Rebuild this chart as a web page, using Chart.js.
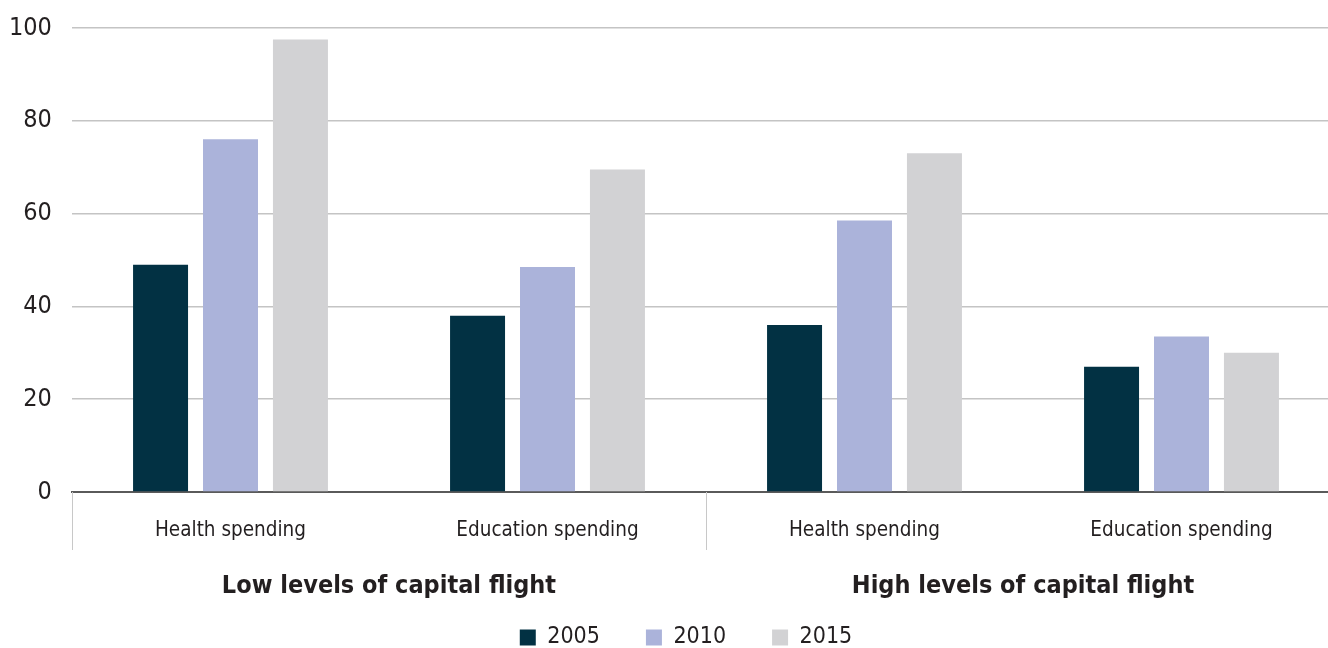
<!DOCTYPE html>
<html>
<head>
<meta charset="utf-8">
<script src="https://cdn.jsdelivr.net/npm/chart.js@4.4.1/dist/chart.umd.min.js"></script>
<style>
  html, body { margin: 0; padding: 0; background: #fff; overflow: hidden; }
  #wrap { width: 1340px; height: 648px; }
</style>
</head>
<body>
<div id="wrap"><canvas id="chart"></canvas></div>
<script>
const CATEGORIES = ['Health spending', 'Education spending', 'Health spending', 'Education spending'];
const GROUPS = ['Low levels of capital flight', 'High levels of capital flight'];
const YEARS = ['2005', '2010', '2015'];
const V2005 = [49, 38, 36, 27];
const V2010 = [76, 48.5, 58.5, 33.5];
const V2015 = [97.5, 69.5, 73, 30];
const Y_MIN = 0, Y_MAX = 100, Y_STEP = 20;

const FONT = "'Liberation Sans Narrow', 'DejaVu Sans Condensed', 'Roboto', sans-serif";
const TEXT = '#231f20';

Chart.defaults.font.family = FONT;
Chart.defaults.color = TEXT;

// group labels + separators under the category axis
const groupAxis = {
  id: 'groupAxis',
  afterDraw(chart) {
    const { ctx, chartArea, scales: { x } } = chart;
    const per = CATEGORIES.length / GROUPS.length;
    const half = (x.getPixelForValue(1) - x.getPixelForValue(0)) / 2;
    ctx.save();
    ctx.strokeStyle = '#c8c8c8';
    ctx.lineWidth = 1;
    for (let g = 0; g <= GROUPS.length; g++) {
      const px = Math.round(x.getPixelForValue(g * per) - half) + 0.5;
      ctx.beginPath();
      ctx.moveTo(px, chartArea.bottom);
      ctx.lineTo(px, chartArea.bottom + 58);
      ctx.stroke();
    }
    ctx.fillStyle = TEXT;
    ctx.font = "bold 25px " + FONT;
    ctx.textAlign = 'center';
    ctx.textBaseline = 'middle';
    GROUPS.forEach((g, i) => {
      const mid = (x.getPixelForValue(i * per) + x.getPixelForValue(i * per + per - 1)) / 2;
      ctx.fillText(g, mid, 586);
    });
    ctx.restore();
  }
};

new Chart(document.getElementById('chart'), {
  type: 'bar',
  data: {
    labels: CATEGORIES,
    datasets: [
      { label: YEARS[0], data: V2005, backgroundColor: '#023143' },
      { label: YEARS[1], data: V2010, backgroundColor: '#abb3da' },
      { label: YEARS[2], data: V2015, backgroundColor: '#d2d2d4' },
    ]
  },
  options: {
    responsive: true, maintainAspectRatio: false, animation: false,
    categoryPercentage: 0.662, barPercentage: 0.786,
    layout: { padding: { top: 28, left: 32, right: 0, bottom: -11 } },
    plugins: {
      tooltip: { enabled: false },
      legend: {
        position: 'bottom',
        labels: { boxWidth: 16, boxHeight: 16, padding: 46, color: TEXT, font: { size: 23 } }
      }
    },
    scales: {
      x: {
        grid: { display: false, drawTicks: false },
        border: { display: true, color: '#5a5a5a', width: 2 },
        ticks: { padding: 26, color: TEXT, font: { size: 20.5 } },
        afterFit: s => { s.height = 88; }
      },
      y: {
        min: Y_MIN, max: Y_MAX,
        // mirrored + far-aligned so the labels can sit left of the axis box without clipping
        ticks: { stepSize: Y_STEP, mirror: true, crossAlign: 'far', padding: -63, color: TEXT, font: { size: 25 } },
        grid: { color: '#c4c4c4', lineWidth: 1.5, drawTicks: false },
        border: { display: false },
        afterFit: s => { s.width = 40; s.paddingTop = 0; s.paddingBottom = 0; }
      }
    }
  },
  plugins: [groupAxis]
});
</script>
</body>
</html>
